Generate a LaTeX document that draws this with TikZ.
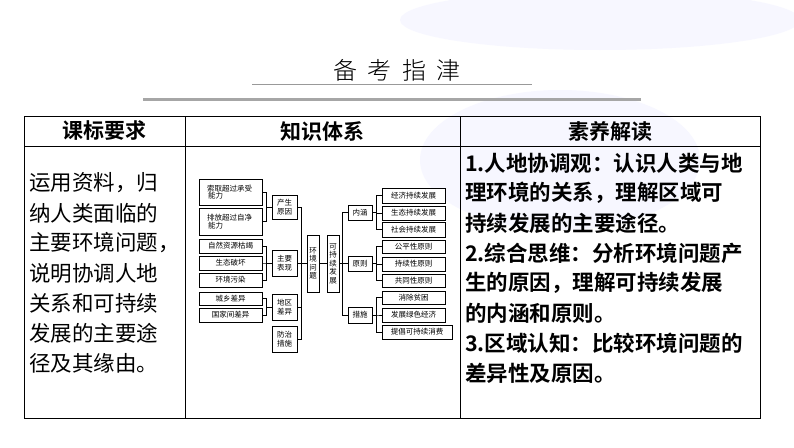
\documentclass[tikz,border=0pt]{standalone}
\usepackage{fontspec}
\setmainfont{Noto Sans CJK SC}
\newfontfamily\cjkb{Noto Sans CJK SC Bold}
\newfontfamily\cjkl{Noto Sans CJK SC Light}
\usetikzlibrary{calc}
\tikzset{
  bx/.style={draw, line width=0.6pt, inner sep=0pt, font=\fontsize{7.5}{8.5}\selectfont, align=center, fill=white},
  ln/.style={line width=0.6pt},
  lt/.style={anchor=west, inner sep=0pt, font=\fontsize{21.5}{24}\selectfont},
  rt/.style={anchor=west, inner sep=0pt, font=\cjkb\fontsize{21.5}{24}\selectfont},
  hd/.style={inner sep=0pt, font=\cjkb\fontsize{21}{24}\selectfont},
}
\newcommand{\bx}[6]{\node[bx, minimum width=#4pt-#2pt, minimum height=#5pt-#3pt] (#1) at ({(#2+#4)/2},{(#3+#5)/2}) {#6};}
\begin{document}
\begin{tikzpicture}[x=1pt,y=-1pt]
\useasboundingbox (0,0) rectangle (794,447);
\fill[white] (0,0) rectangle (794,447);
\fill[blue!3] (560,160) ellipse (140 and 70);
\fill[blue!3] (600,20) ellipse (200 and 30);
% title
\node[inner sep=0pt, font=\cjkl\fontsize{24}{28}\selectfont] (title) at (397,70) {备\ \ 考\ \ 指\ \ 津};
\draw[gray!80, line width=0.6pt] (252,84) -- (532,84);
\draw[gray!70, line width=3pt] (143,99) -- (641,99);
% table
\draw[line width=1pt] (24,116) rectangle (760,418);
\draw[line width=1pt] (24,146) -- (760,146);
\draw[line width=1pt] (185,116) -- (185,418);
\draw[line width=1pt] (460,116) -- (460,418);
\node[hd] (h1) at (104.5,131) {课标要求};
\node[hd] (h2) at (322.5,131) {知识体系};
\node[hd] (h3) at (610,131) {素养解读};
% left text
\node[lt] (l1) at (29,183) {运用资料，归};
\node[lt] (l2) at (29,213) {纳人类面临的};
\node[lt] (l3) at (29,243) {主要环境问题，};
\node[lt] (l4) at (29,273) {说明协调人地};
\node[lt] (l5) at (29,303) {关系和可持续};
\node[lt] (l6) at (29,333) {发展的主要途};
\node[lt] (l7) at (29,363) {径及其缘由。};
% right text
\node[rt] (r1) at (465,163) {1.人地协调观：认识人类与地};
\node[rt] (r2) at (465,193) {理环境的关系，理解区域可};
\node[rt] (r3) at (465,223) {持续发展的主要途径。};
\node[rt] (r4) at (465,253) {2.综合思维：分析环境问题产};
\node[rt] (r5) at (465,283) {生的原因，理解可持续发展};
\node[rt] (r6) at (465,313) {的内涵和原则。};
\node[rt] (r7) at (465,343) {3.区域认知：比较环境问题的};
\node[rt] (r8) at (465,373) {差异性及原因。};
% diagram
\bx{a1}{199}{179}{262}{205}{\hspace*{-2pt}索取超过承受\\[-1pt]\hspace*{-30pt}能力}
\bx{a2}{199}{208}{262}{235}{\hspace*{-2pt}排放超过自净\\[-1pt]\hspace*{-30pt}能力}
\bx{a3}{199}{239}{262}{253}{自然资源枯竭}
\bx{a4}{199}{256}{262}{270}{生态破坏}
\bx{a5}{199}{273}{262}{287}{环境污染}
\bx{a6}{199}{292}{262}{305}{城乡差异}
\bx{a7}{199}{308}{262}{322}{国家间差异}
\bx{p1}{272}{195}{297}{219}{产生\\原因}
\bx{p2}{272}{250}{297}{276}{主要\\表现}
\bx{p3}{272}{294}{297}{320}{地区\\差异}
\bx{p4}{272}{326}{297}{352}{防治\\措施}
\bx{e1}{307}{235}{319}{292}{环\\境\\问\\题}
\bx{e2}{327}{235}{339}{292}{可\\持\\续\\发\\展}
\bx{q1}{348}{205}{372}{220}{内涵}
\bx{q2}{348}{256}{372}{271}{原则}
\bx{q3}{348}{307}{372}{323}{措施}
\bx{b1}{382}{188}{445}{203}{经济持续发展}
\bx{b2}{382}{206}{445}{220}{生态持续发展}
\bx{b3}{382}{222}{445}{237}{社会持续发展}
\bx{b4}{382}{240}{445}{253}{公平性原则}
\bx{b5}{382}{257}{445}{271}{持续性原则}
\bx{b6}{382}{274}{445}{287}{共同性原则}
\bx{b7}{382}{291}{445}{304}{消除贫困}
\bx{b8}{382}{308}{445}{322}{发展绿色经济}
\bx{b9}{382}{325}{452}{339}{提倡可持续消费}
% connectors
\foreach \s/\t in {a1/p1,a2/p1,a3/p2,a4/p2,a5/p2,a6/p3,a7/p3}
  \draw[ln] (\s.east) -| ($(\t.west)+(-5,0)$) |- (\t.west);
\foreach \s in {p1,p2,p3,p4}
  \draw[ln] (\s.east) -| ($(e1.west)+(-5,0)$) |- (e1.west);
\draw[ln] (e1.east) -- (e2.west);
\foreach \t in {q1,q2,q3}
  \draw[ln] (e2.east) -| ($(\t.west)+(-5,0)$) |- (\t.west);
\foreach \s/\t in {b1/q1,b2/q1,b3/q1,b4/q2,b5/q2,b6/q2,b7/q3,b8/q3,b9/q3}
  \draw[ln] (\t.east) -| ($(\s.west)+(-5,0)$) |- (\s.west);
\end{tikzpicture}
\end{document}
